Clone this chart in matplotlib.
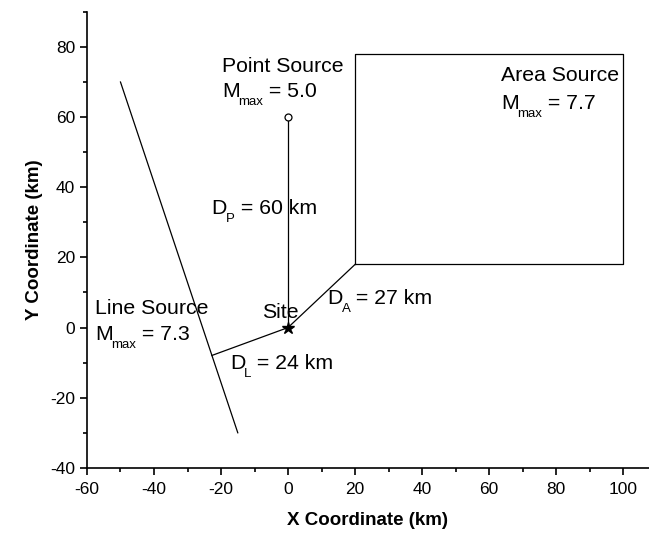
import matplotlib
matplotlib.use("Agg")
import matplotlib.pyplot as plt
from matplotlib.ticker import MultipleLocator

plt.rcParams['font.family'] = ['Liberation Sans', 'DejaVu Sans']
plt.rcParams['axes.unicode_minus'] = False

# geometry of the sources (km)
site = (0, 0)
point_src = (0, 60)
line_x = [-50, -15]
line_y = [70, -30]
area_x = [20, 100, 100, 20, 20]
area_y = [18, 18, 78, 78, 18]
foot_line = (-22.7, -7.95)   # closest point on line source
corner_area = (20, 18)       # closest point on area source

fig = plt.figure(figsize=(6.49, 5.39), dpi=100)
ax = fig.add_axes([0.134, 0.132, 0.866, 0.846])
ax.set_xlim(-60, 107.7)
ax.set_ylim(-40, 90)

lw = 0.9
ax.plot(line_x, line_y, 'k-', linewidth=lw)
ax.plot(area_x, area_y, 'k-', linewidth=lw)
ax.plot([site[0], point_src[0]], [site[1], point_src[1]], 'k-', linewidth=lw)
ax.plot([site[0], foot_line[0]], [site[1], foot_line[1]], 'k-', linewidth=lw)
ax.plot([site[0], corner_area[0]], [site[1], corner_area[1]], 'k-', linewidth=lw)
ax.plot(*point_src, 'o', mfc='white', mec='black', ms=5, mew=0.9)
ax.plot(*site, '*', color='black', ms=9)

fs = 15.3
fs_sub = 9.5
renderer = fig.canvas.get_renderer()


def sub_text(x, y, main, sub, rest):
    # main letter, lowered small subscript, then the rest on the baseline
    t = ax.text(x, y, main, fontsize=fs, va='baseline')
    w1 = t.get_window_extent(renderer).width * 72 / fig.dpi
    s = ax.annotate(sub, (x, y), xytext=(w1 - 1, -5.8), textcoords='offset points',
                    fontsize=fs_sub, va='baseline')
    w2 = s.get_window_extent(renderer).width * 72 / fig.dpi
    ax.annotate(rest, (x, y), xytext=(w1 - 1 + w2, 0), textcoords='offset points',
                fontsize=fs, va='baseline')


ax.text(-19.7, 72.8, 'Point Source', fontsize=fs, va='baseline')
sub_text(-19.7, 65.7, 'M', 'max', ' = 5.0')
ax.text(63.5, 70.2, 'Area Source', fontsize=fs, va='baseline')
sub_text(63.5, 62.4, 'M', 'max', ' = 7.7')
ax.text(-57.6, 3.9, 'Line Source', fontsize=fs, va='baseline')
sub_text(-57.6, -3.5, 'M', 'max', ' = 7.3')
ax.text(-7.85, 2.7, 'Site', fontsize=fs, va='baseline')
sub_text(-22.8, 32.5, 'D', 'P', ' = 60 km')
sub_text(11.8, 6.7, 'D', 'A', ' = 27 km')
sub_text(-17.3, -11.8, 'D', 'L', ' = 24 km')

ax.set_xticks([-60, -40, -20, 0, 20, 40, 60, 80, 100])
ax.set_yticks([-40, -20, 0, 20, 40, 60, 80])
ax.xaxis.set_minor_locator(MultipleLocator(10))
ax.yaxis.set_minor_locator(MultipleLocator(10))
ax.tick_params(which='both', direction='out', width=1.2, labelsize=12.5)
ax.tick_params(which='major', length=5)
ax.tick_params(which='minor', length=3)
ax.tick_params(axis='x', which='major', pad=5)
ax.spines['top'].set_visible(False)
ax.spines['right'].set_visible(False)
ax.spines['left'].set_linewidth(1.2)
ax.spines['bottom'].set_linewidth(1.2)

ax.set_xlabel('X Coordinate (km)', fontsize=13.5, fontweight='bold', labelpad=11)
ax.set_ylabel('Y Coordinate (km)', fontsize=13.5, fontweight='bold', labelpad=5)

fig.savefig('out.png', dpi=100)
